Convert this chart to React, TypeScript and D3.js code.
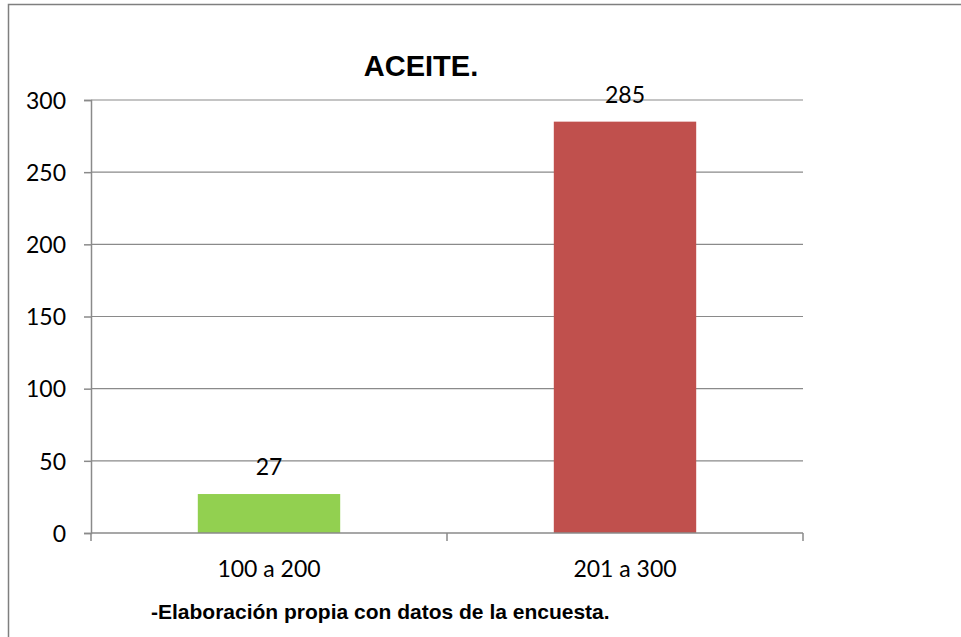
import React, { useEffect, useRef } from "react";
import * as d3 from "d3";

const categories = ["100 a 200", "201 a 300"];
const values = [27, 285];
const barColors = ["#92D050", "#C0504D"];
const yTicks = [0, 50, 100, 150, 200, 250, 300];
const title = "ACEITE.";
const note = "-Elaboración propia con datos de la encuesta.";

const App: React.FC = () => {
  const svgRef = useRef<SVGSVGElement>(null);

  useEffect(() => {
    if (!svgRef.current) return;
    const width = 961;
    const height = 637;
    const plot = { left: 91, right: 803, top: 100, bottom: 533 };
    const axisColor = "#8a8a8a";
    const calibri = "Lato, 'Open Sans', sans-serif";
    const arial = "'Liberation Sans', Arial, sans-serif";

    const svg = d3.select(svgRef.current);
    svg.selectAll("*").remove();
    svg.attr("width", width).attr("height", height);

    // outer chart border (only left and top visible)
    svg
      .append("path")
      .attr("d", `M8.5,${height} V4.5 H${width}`)
      .attr("fill", "none")
      .attr("stroke", "#7f7f7f")
      .attr("stroke-width", 1.5);

    const x = d3
      .scaleBand<string>()
      .domain(categories)
      .range([plot.left, plot.right])
      .padding(0);

    const y = d3
      .scaleLinear()
      .domain([0, 300])
      .range([plot.bottom, plot.top]);

    // gridlines
    svg
      .append("g")
      .selectAll("line")
      .data(yTicks.filter((t) => t > 0))
      .join("line")
      .attr("x1", plot.left)
      .attr("x2", plot.right)
      .attr("y1", (d) => y(d))
      .attr("y2", (d) => y(d))
      .attr("stroke", axisColor)
      .attr("stroke-width", 1.2);

    // y axis
    const yAxis = svg
      .append("g")
      .attr("transform", `translate(${plot.left},0)`)
      .call(d3.axisLeft(y).tickValues(yTicks).tickSize(7).tickPadding(18));
    yAxis.select(".domain").attr("stroke", axisColor).attr("stroke-width", 1.5);
    yAxis.selectAll(".tick line").attr("stroke", axisColor).attr("stroke-width", 1.5);
    yAxis
      .selectAll(".tick text")
      .attr("font-family", calibri)
      .attr("font-size", 23)
      .attr("fill", "#000")
      .attr("dy", "0.36em");

    // bars
    const bw = x.bandwidth();
    svg
      .append("g")
      .selectAll("rect")
      .data(values)
      .join("rect")
      .attr("x", (_, i) => (x(categories[i]) || 0) + bw * 0.3)
      .attr("width", bw * 0.4)
      .attr("y", (d) => y(d))
      .attr("height", (d) => y(0) - y(d))
      .attr("fill", (_, i) => barColors[i]);

    // x axis
    const xAxis = svg.append("g");
    xAxis
      .append("line")
      .attr("x1", plot.left)
      .attr("x2", plot.right)
      .attr("y1", y(0))
      .attr("y2", y(0))
      .attr("stroke", axisColor)
      .attr("stroke-width", 1.5);
    const tickXs = [plot.left, ...categories.map((c) => (x(c) || 0) + bw)];
    xAxis
      .selectAll("line.tick")
      .data(tickXs)
      .join("line")
      .attr("class", "tick")
      .attr("x1", (d) => d)
      .attr("x2", (d) => d)
      .attr("y1", y(0))
      .attr("y2", y(0) + 8)
      .attr("stroke", axisColor)
      .attr("stroke-width", 1.5);
    xAxis
      .selectAll("text")
      .data(categories)
      .join("text")
      .attr("x", (d) => (x(d) || 0) + bw / 2)
      .attr("y", 577)
      .attr("text-anchor", "middle")
      .attr("font-family", calibri)
      .attr("font-size", 23)
      .attr("fill", "#000")
      .text((d) => d);

    // value labels
    svg
      .append("g")
      .selectAll("text")
      .data(values)
      .join("text")
      .attr("x", (_, i) => (x(categories[i]) || 0) + bw / 2)
      .attr("y", (d) => y(d) - 19)
      .attr("text-anchor", "middle")
      .attr("font-family", calibri)
      .attr("font-size", 23)
      .attr("fill", "#000")
      .text((d) => d);

    // title
    svg
      .append("text")
      .attr("x", 421)
      .attr("y", 76)
      .attr("text-anchor", "middle")
      .attr("font-family", arial)
      .attr("font-weight", "bold")
      .attr("font-size", 29)
      .text(title);

    // source note
    svg
      .append("text")
      .attr("x", 151)
      .attr("y", 619)
      .attr("font-family", arial)
      .attr("font-weight", "bold")
      .attr("font-size", 21)
      .text(note);
  }, []);

  return <svg ref={svgRef} style={{ position: "absolute", left: 0, top: 0 }} />;
};

export default App;
